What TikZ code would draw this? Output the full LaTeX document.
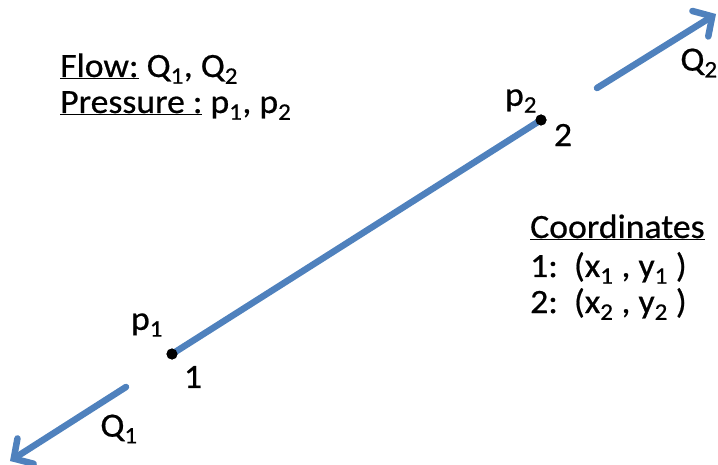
\documentclass[tikz,border=0pt]{standalone}
\usepackage{fontspec}
\setmainfont{Carlito}[FakeStretch=1.05, FakeBold=0.6]
\usetikzlibrary{arrows.meta,positioning}
\definecolor{pipeblue}{RGB}{79,129,189}

\begin{document}
\begin{tikzpicture}[x=1pt, y=-1pt,
  pipe/.style={line width=6.5pt, draw=pipeblue, line cap=round},
  flow/.style={pipe, -{Straight Barb[length=14pt, width=30pt, line cap=round]}},
  junction/.style={circle, fill=black, inner sep=0pt, minimum size=11pt},
  lbl/.style={inner sep=0pt, font=\fontsize{34}{36}\selectfont},
  txt/.style={lbl, anchor=base west}]

\useasboundingbox (0,0) rectangle (718,465);

% junctions and pipe
\node[junction] (j1) at (172,354) {};
\node[junction] (j2) at (541,120) {};
\draw[pipe] (j1.center) -- (j2.center);
\node[junction] at (j1) {};
\node[junction] at (j2) {};

% flow arrows
\coordinate (q1start) at (126,387);
\coordinate (q1end) at (10,461);
\coordinate (q2start) at (597,88);
\coordinate (q2end) at (716,14);
\draw[flow] (q1start) -- (q1end);
\draw[flow] (q2start) -- (q2end);

% point labels
\node[lbl] (p1) at (147,325) {p\textsubscript{1}};
\node[lbl] (n1) at (193,377) {1};
\node[lbl] (p2) at (521,101) {p\textsubscript{2}};
\node[lbl] (n2) at (563,135) {2};
\node[lbl] (q1) at (119,429) {Q\textsubscript{1}};
\node[lbl] (q2) at (699,63) {Q\textsubscript{2}};

% legend
\node[txt] (flowtxt) at (60,77) {\underline{Flow:} Q\textsubscript{1}, Q\textsubscript{2}};
\node[txt] (presstxt) at (60,113) {\underline{Pressure :} p\textsubscript{1}, p\textsubscript{2}};

\node[txt] (coordhead) at (530,238) {\underline{Coordinates}};
\node[txt] (coord1) at (530,277) {1:\ \ (x\textsubscript{1} , y\textsubscript{1} )};
\node[txt] (coord2) at (530,313) {2:\ \ (x\textsubscript{2} , y\textsubscript{2} )};

\end{tikzpicture}
\end{document}
